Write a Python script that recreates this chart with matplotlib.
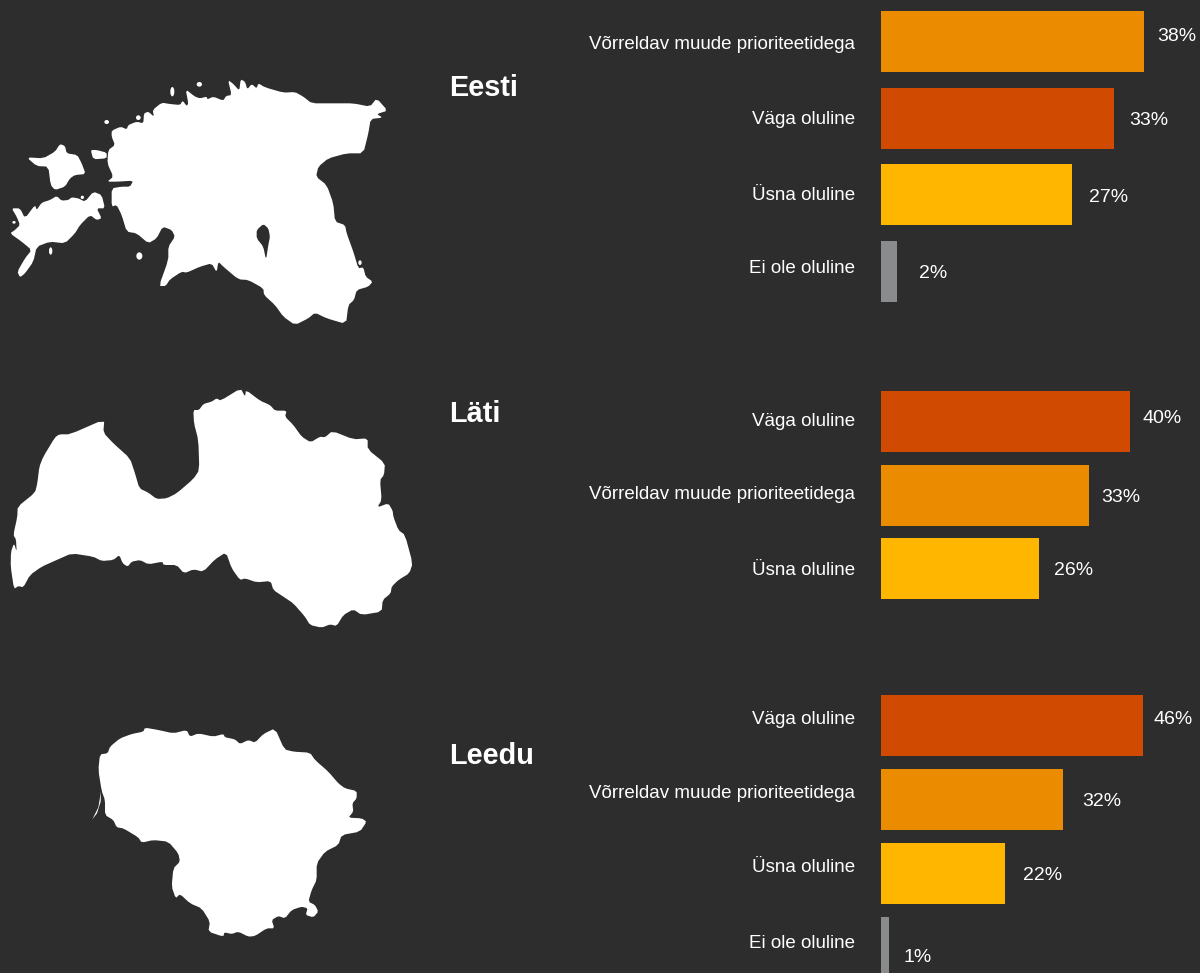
import matplotlib
matplotlib.use('Agg')
from matplotlib import pyplot as plt
from matplotlib.patches import Polygon, Ellipse

plt.rcParams['font.family'] = ['Liberation Sans', 'DejaVu Sans']

W, H = 1200, 973
BG = '#2d2d2d'
COLORS = {
    'Võrreldav muude prioriteetidega': '#eb8c00',
    'Väga oluline': '#d04a02',
    'Üsna oluline': '#ffb600',
    'Ei ole oluline': '#8a8b8d',
}

# data
eesti_labels = ['Võrreldav muude prioriteetidega', 'Väga oluline', 'Üsna oluline', 'Ei ole oluline']
eesti_values = [37.7, 33.4, 27.3, 2.3]
eesti_texts = ['38%', '33%', '27%', '2%']

lati_labels = ['Väga oluline', 'Võrreldav muude prioriteetidega', 'Üsna oluline']
lati_values = [40.2, 33.5, 25.5]
lati_texts = ['40%', '33%', '26%']

leedu_labels = ['Väga oluline', 'Võrreldav muude prioriteetidega', 'Üsna oluline', 'Ei ole oluline']
leedu_values = [46.0, 32.0, 21.8, 1.4]
leedu_texts = ['46%', '32%', '22%', '1%']

est_main = [(335,182),(362,170),(380,178),(385,165),(410,155),(430,160),(432,130),(445,125),(462,140),(458,120),
    (485,98),(510,102),(540,105),(548,92),(560,108),(565,100),(557,58),(585,80),(600,85),(620,80),(622,88),(640,80),
    (670,92),(678,78),(695,75),(684,30),(700,42),(718,62),(722,28),(735,35),(742,58),(755,42),(770,55),(775,40),
    (795,52),(850,68),(885,66),(910,80),(935,100),(1000,100),(1060,100),(1110,110),(1130,85),(1163,122),(1130,132),
    (1148,143),(1112,147),(1105,190),(1090,250),(1040,250),(985,265),(955,290),(948,320),(980,345),(1000,400),
    (1005,455),(1035,465),(1040,490),(1060,545),(1075,595),(1090,592),(1097,620),(1118,635),(1105,650),(1070,660),
    (1062,690),(1045,705),(1038,762),(980,745),(945,728),(925,745),(885,765),(850,740),(825,705),(792,675),(790,655),
    (745,630),(715,628),(670,590),(655,575),(650,607),(635,580),(600,590),(560,608),(545,605),(510,628),(497,648),
    (477,648),(505,570),(505,530),(525,500),(515,480),(488,470),(470,505),(445,520),(410,490),(380,485),(365,435),
    (350,405),(335,410),(335,355),(365,350),(390,350),(400,332),(350,335),(322,335),(340,320),(322,280),(325,240),
    (345,225),(335,200)]
est_hiiumaa = [(80,262),(130,265),(165,245),(180,222),(195,228),(200,250),(232,255),(245,280),(257,312),(225,315),
    (210,325),(195,350),(165,360),(152,345),(145,290),(110,288)]
est_saaremaa = [(35,415),(60,415),(75,445),(105,405),(110,420),(125,398),(150,390),(170,378),(185,392),(205,390),
    (215,382),(235,385),(255,395),(280,365),(305,375),(315,415),(290,415),(305,445),(290,450),(270,435),(240,465),
    (225,490),(195,520),(150,515),(110,530),(100,575),(75,610),(60,622),(52,605),(75,565),(95,540),(65,515),(30,490),
    (45,480),(60,465),(50,440)]
est_muhu = [(272,240),(290,240),(320,248),(320,265),(280,268)]
est_lake = [(790,462),(805,475),(810,500),(805,525),(798,570),(790,530),(770,505),(770,480)]
est_islets = [(320,156,14,12),(598,43,16,14),(517,65,12,28),(418,558,18,22),(152,543,10,22),(247,382,10,10),
    (1080,578,10,14),(415,143,14,14),(42,457,10,8)]

lat_main = [(53,380),(105,338),(112,310),(118,260),(130,230),(165,172),(178,163),(210,163),(313,118),(310,158),
    (340,190),(390,235),(405,280),(418,325),(445,338),(470,357),(500,355),(530,340),(580,297),(598,270),(595,180),
    (582,130),(580,90),(597,90),(610,72),(635,65),(650,55),(662,62),(722,25),(735,50),(738,30),(780,62),(810,75),
    (825,92),(860,92),(855,110),(880,135),(905,170),(932,187),(960,170),(975,172),(997,153),(1060,178),(1103,175),
    (1103,208),(1155,250),(1152,285),(1140,300),(1145,360),(1132,382),(1165,370),(1178,392),(1180,410),(1195,450),
    (1215,465),(1238,550),(1228,580),(1195,600),(1175,620),(1172,640),(1148,660),(1145,695),(1085,705),(1060,688),
    (1030,705),(1010,738),(990,733),(965,743),(930,735),(915,710),(880,670),(850,650),(820,630),(812,603),(770,607),
    (735,595),(720,600),(695,565),(678,517),(645,538),(610,575),(580,568),(552,580),(530,555),(490,555),(488,545),
    (445,553),(420,540),(395,545),(383,560),(368,550),(358,525),(340,540),(305,543),(280,530),(215,520),(170,540),
    (125,560),(90,585),(70,622),(55,618),(42,627),(32,560),(33,515),(42,490),(50,515),(48,478),(40,465),(52,410)]

lit_main = [(45,103),(68,100),(75,80),(105,55),(140,42),(175,35),(180,23),(220,30),(265,40),(305,30),(315,50),
    (340,40),(385,50),(415,42),(420,52),(450,58),(465,72),(490,60),(510,68),(535,42),(570,25),(598,88),(625,95),
    (675,98),(690,120),(730,155),(760,190),(780,205),(815,213),(815,235),(802,250),(805,275),(790,293),(830,295),
    (845,305),(825,335),(770,345),(760,375),(720,395),(695,430),(695,480),(680,510),(670,545),(690,555),(700,575),
    (685,592),(662,585),(668,565),(650,560),(620,570),(600,595),(580,588),(560,600),(568,625),(545,625),(510,648),
    (490,650),(460,635),(440,642),(418,637),(415,650),(370,635),(375,605),(350,565),(315,550),(285,522),(272,535),
    (260,500),(265,445),(285,425),(280,400),(250,365),(205,360),(170,368),(160,352),(115,325),(95,322),(85,300),
    (60,285),(60,240),(50,213),(40,150)]
lit_spit = [(48,215),(40,262),(22,298),(36,280),(47,245)]


def crop(points, x0, y0, soften=0.18):
    # cut the corners a little so the coast is not so angular
    pts = [(x0 + px / 3, y0 + py / 3) for px, py in points]
    if not soften:
        return pts
    res = []
    for i, p in enumerate(pts):
        q = pts[(i + 1) % len(pts)]
        res.append((p[0] + soften * (q[0] - p[0]), p[1] + soften * (q[1] - p[1])))
        res.append((q[0] - soften * (q[0] - p[0]), q[1] - soften * (q[1] - p[1])))
    return res


def draw_maps(ax):
    for pts in [est_main, est_hiiumaa, est_saaremaa, est_muhu]:
        ax.add_patch(Polygon(crop(pts, 0, 70), fc='white', ec='none'))
    ax.add_patch(Polygon(crop(est_lake, 0, 70), fc=BG, ec='none'))
    for px, py, w, h in est_islets:
        ax.add_patch(Ellipse((px / 3, 70 + py / 3), w / 3, h / 3, fc='white', ec='none'))
    ax.add_patch(Polygon(crop(lat_main, 0, 380), fc='white', ec='none'))
    ax.add_patch(Polygon(crop(lit_main, 85, 720), fc='white', ec='none'))
    ax.add_patch(Polygon(crop(lit_spit, 85, 720, soften=0), fc='white', ec='none'))


def panel(top, step, scale, labels, values, texts, label_dy, text_x, text_dy):
    n = len(values)
    left = 881
    ax = fig.add_axes([left / W, 1 - (top + n * step) / H, (W - left) / W, n * step / H])
    ax.set_xlim(0, (W - left) / scale)
    ax.set_ylim(n - 0.5, -0.5)
    ax.axis('off')
    ys = list(range(n))
    ax.barh(ys, values, height=61 / step, color=[COLORS[l] for l in labels])
    for i in ys:
        ax.annotate(labels[i], xy=(0, i), xytext=(-26, -label_dy[i]), textcoords='offset pixels',
                    ha='right', va='center', color='white', fontsize=13.5)
        ax.annotate(texts[i], xy=(values[i], i), xytext=(text_x[i], -text_dy[i]), textcoords='offset pixels',
                    ha='left', va='center', color='white', fontsize=14, annotation_clip=False)


fig = plt.figure(figsize=(W / 100, H / 100), dpi=100, facecolor=BG)
bg = fig.add_axes([0, 0, 1, 1])
bg.set_xlim(0, W)
bg.set_ylim(H, 0)
bg.axis('off')
draw_maps(bg)

for name, y in [('Eesti', 88), ('Läti', 414), ('Leedu', 756)]:
    bg.text(449.5, y, name, color='white', fontsize=20.8, fontweight='bold', ha='left', va='center')

panel(3, 76.7, 6.98, eesti_labels, eesti_values, eesti_texts,
      [3.5, 1.5, 0.5, -2.5], [13, 15, 17, 22], [-4.5, 2.5, 2.5, 2.5])
panel(384.9, 73.5, 6.2, lati_labels, lati_values, lati_texts,
      [-0.5, -0.5, 1.5], [12, 13, 15], [-3.5, 2.5, 1.5])
panel(688.5, 74, 5.7, leedu_labels, leedu_values, leedu_texts,
      [-6.5, -5.5, -5.5, -4.5], [10, 19, 18, 15], [-6.5, 2.5, 2.5, 9.5])

fig.savefig('out.png', dpi=100, facecolor=BG)
